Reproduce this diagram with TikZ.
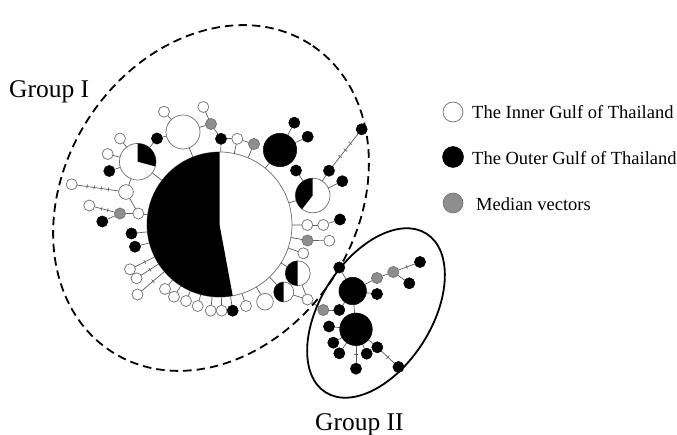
\documentclass[tikz,border=0pt]{standalone}
\usepackage{fontspec}
\setmainfont{Liberation Serif}
\usetikzlibrary{decorations.markings}
\pgfdeclarelayer{bg}
\pgfsetlayers{bg,main}
\definecolor{edgec}{HTML}{5A5A5A}
\definecolor{outc}{HTML}{6E6E6E}
\definecolor{medc}{HTML}{8E8E8E}
\begin{document}
\begin{tikzpicture}[x=1pt,y=-1pt,
 conn/.style={draw=edgec, line width=0.7pt},
 wn/.style={circle, draw=outc, fill=white, line width=0.7pt, minimum size=11pt, inner sep=0pt, outer sep=0pt},
 bn/.style={circle, draw=black, fill=black, line width=0.5pt, minimum size=11.2pt, inner sep=0pt, outer sep=0pt},
 gn/.style={circle, draw=outc, fill=medc, line width=0.6pt, minimum size=11.2pt, inner sep=0pt, outer sep=0pt},
 tkone/.style={postaction={decorate, decoration={markings, mark=at position #1 with {\draw[draw=edgec, line width=0.6pt] (0pt,-2.2pt) -- (0pt,2.2pt);}}}},
 tkmany/.style={postaction={decorate, decoration={markings, mark=between positions #1 with {\draw[draw=edgec, line width=0.6pt] (0pt,-2.2pt) -- (0pt,2.2pt);}}}},
 lbl/.style={font=\fontsize{25.5}{28}\selectfont, inner sep=0pt, anchor=base west},
 leg/.style={font=\fontsize{18.5}{22}\selectfont, inner sep=0pt, anchor=base west}
]
\useasboundingbox (0,0) rectangle (677,435);

% group outlines
\draw[line width=1.8pt, dash pattern=on 8.5pt off 5pt, rotate around={57:(211,198)}] (211,198) ellipse [x radius=183pt, y radius=146pt];
\draw[line width=1.8pt, rotate around={57.5:(376,313)}] (376,313) ellipse [x radius=94pt, y radius=55.5pt];

% central haplotype
\node[wn, minimum size=145pt] (B) at (219.5,224.5) {};

% upper-left
\node[wn, minimum size=34pt] (W1) at (183,132) {};
\node[wn, minimum size=36.6pt] (PA) at (137.7,161.7) {};
\node[wn] (a1) at (164,111.7) {};
\node[bn] (a2) at (157,138.5) {};
\node[wn] (a3) at (120,138.5) {};
\node[wn] (a4) at (107.7,154) {};
\node[bn] (a5) at (109.3,171) {};
\node[wn, minimum size=14.6pt] (a6) at (126,192) {};
\node[wn] (a7) at (71.7,184.3) {};
\node[wn] (a8) at (138.3,213.5) {};
\node[gn] (a9) at (120,213.5) {};
\node[wn] (a10) at (89.3,205.5) {};
\node[bn] (a11) at (102.3,221.5) {};
\node[bn] (a12) at (131.5,233.5) {};
\node[bn] (a13) at (135,246.7) {};

% lower
\node[wn] (b1) at (130,269.3) {};
\node[wn] (b2) at (136.5,278.3) {};
\node[wn] (b3) at (137.5,294.5) {};
\node[wn] (b4) at (165,289) {};
\node[wn] (b5) at (174,296.7) {};
\node[wn] (b6) at (186,301) {};
\node[wn] (b7) at (197.7,306) {};
\node[wn] (b8) at (210.7,310.7) {};
\node[wn] (b9) at (221.7,310.7) {};
\node[bn] (b10) at (232.7,310.7) {};
\node[wn] (b11) at (246,306) {};
\node[wn, minimum size=16.6pt] (b12) at (265,301.7) {};

% lower-right
\node[wn, minimum size=25pt] (PC1) at (297.7,273.3) {};
\node[wn, minimum size=20pt] (PC2) at (283.7,292) {};
\node[wn] (c1) at (307.5,299.5) {};
\node[gn] (c2) at (323.3,310) {};
\node[wn] (c3) at (303.3,253.3) {};
\node[gn] (c4) at (307.5,240.5) {};
\node[wn] (c5) at (329.3,240.7) {};
\node[wn] (c6) at (307.3,225) {};
\node[wn] (c7) at (323.3,225) {};
\node[bn] (c8) at (340,219.5) {};

% upper-right
\node[wn, minimum size=34.6pt] (PB) at (312.7,195.5) {};
\node[bn] (d1) at (296,170.5) {};
\node[bn] (d2) at (329,170.7) {};
\node[bn] (d3) at (342.3,181.2) {};
\node[bn] (d4) at (361.7,129.3) {};
\node[bn, minimum size=33.4pt] (BB) at (280,150) {};
\node[bn] (d5) at (294.3,122.7) {};
\node[bn] (d6) at (307.7,136.7) {};
\node[gn] (d7) at (254,144) {};
\node[wn] (d8) at (237.3,138.8) {};
\node[bn] (d9) at (221,138.8) {};
\node[gn] (d10) at (211,124) {};
\node[wn] (d11) at (203.3,107) {};

% group II
\node[bn, minimum size=27.5pt] (G1) at (352.7,291) {};
\node[bn, minimum size=32.6pt] (G2) at (356,329.3) {};
\node[bn] (e1) at (339.3,267.5) {};
\node[gn] (e2) at (377,278) {};
\node[gn] (e3) at (393.3,272) {};
\node[bn] (e4) at (420,262) {};
\node[bn] (e5) at (409.3,283.3) {};
\node[bn] (e6) at (377,294) {};
\node[bn] (e7) at (339.3,310) {};
\node[bn] (e8) at (329,326.5) {};
\node[bn] (e9) at (333.3,342.7) {};
\node[bn] (e10) at (339.3,353.3) {};
\node[bn] (e11) at (366.7,353.7) {};
\node[bn] (e12) at (377.3,347.3) {};
\node[bn] (e13) at (356,368.7) {};
\node[bn] (e14) at (398.5,367) {};

% pie sectors
\fill[black] (B.center) -- ++(90:72.5pt) arc[start angle=90, end angle=280.5, radius=72.5pt] -- cycle;
\fill[black] (PA.center) -- ++(-15:18.3pt) arc[start angle=-15, end angle=90, radius=18.3pt] -- cycle;
\fill[black] (PB.center) -- ++(90:17.3pt) arc[start angle=90, end angle=232, radius=17.3pt] -- cycle;
\fill[black] (PC1.center) -- ++(90:12.5pt) arc[start angle=90, end angle=270, radius=12.5pt] -- cycle;
\fill[black] (PC2.center) -- ++(90:10pt) arc[start angle=90, end angle=270, radius=10pt] -- cycle;

% connectors
\begin{pgfonlayer}{bg}
\draw[conn] (W1) -- (B);
\draw[conn] (W1) -- (a1);
\draw[conn] (W1) -- (a2);
\draw[conn] (a2) -- (PA);
\draw[conn] (PA) -- (a3);
\draw[conn] (PA) -- (a4);
\draw[conn] (PA) -- (a5);
\draw[conn] (PA) -- (B);
\draw[conn] (PA) -- (a6);
\draw[conn, tkmany={0.25 and 0.76 step 0.17}] (a6) -- (a7);
\draw[conn] (a6) -- (a8);
\draw[conn] (a8) -- (B);
\draw[conn] (a8) -- (a9);
\draw[conn, tkmany={0.35 and 0.66 step 0.3}] (a9) -- (a10);
\draw[conn] (a9) -- (a11);
\draw[conn] (a12) -- (B);
\draw[conn] (a13) -- (B);
\draw[conn, tkone=0.5] (b1) -- (B);
\draw[conn, tkone=0.5] (b2) -- (B);
\draw[conn, tkone=0.5] (b3) -- (B);
\draw[conn] (b4) -- (B);
\draw[conn] (b5) -- (B);
\draw[conn] (b6) -- (B);
\draw[conn] (b7) -- (B);
\draw[conn] (b8) -- (B);
\draw[conn] (b9) -- (B);
\draw[conn] (b10) -- (B);
\draw[conn] (b11) -- (B);
\draw[conn] (b12) -- (B);
\draw[conn] (PC1) -- (B);
\draw[conn] (PC2) -- (B);
\draw[conn] (PC1) -- (c1);
\draw[conn] (PC2) -- (c1);
\draw[conn] (c1) -- (c2);
\draw[conn] (c3) -- (B);
\draw[conn] (c4) -- (B);
\draw[conn] (c4) -- (c5);
\draw[conn] (c6) -- (B);
\draw[conn] (c6) -- (c7);
\draw[conn] (c7) -- (c8);
\draw[conn] (PB) -- (B);
\draw[conn] (PB) -- (d1);
\draw[conn] (PB) -- (d2);
\draw[conn] (PB) -- (d3);
\draw[conn, tkmany={0.3 and 0.71 step 0.2}] (d2) -- (d4);
\draw[conn] (BB) -- (B);
\draw[conn] (BB) -- (d5);
\draw[conn] (BB) -- (d6);
\draw[conn] (W1) -- (d10);
\draw[conn] (d10) -- (d11);
\draw[conn] (d10) -- (d9);
\draw[conn] (d9) -- (B);
\draw[conn] (d9) -- (d8);
\draw[conn] (d8) -- (B);
\draw[conn] (d8) -- (d7);
\draw[conn] (d7) -- (B);
\draw[conn] (c2) -- (e7);
\draw[conn] (e7) -- (G1);
\draw[conn] (G1) -- (G2);
\draw[conn] (G1) -- (e1);
\draw[conn] (G1) -- (e2);
\draw[conn] (e2) -- (e3);
\draw[conn, tkone=0.5] (e3) -- (e4);
\draw[conn] (e3) -- (e5);
\draw[conn] (G1) -- (e6);
\draw[conn] (G2) -- (e8);
\draw[conn] (G2) -- (e9);
\draw[conn] (G2) -- (e10);
\draw[conn] (G2) -- (e11);
\draw[conn] (G2) -- (e12);
\draw[conn, tkone=0.5] (G2) -- (e13);
\draw[conn, tkone=0.5] (e12) -- (e14);
\end{pgfonlayer}

% legend
\node[wn, minimum size=20pt] (lw) at (453,112) {};
\node[bn, minimum size=21pt] (lb) at (453,157) {};
\node[gn, minimum size=20pt] (lg) at (453,203) {};
\node[leg] (lwt) at (472,118.5) {The Inner Gulf of Thailand};
\node[leg] (lbt) at (472,165) {The Outer Gulf of Thailand};
\node[leg] (lgt) at (476,210.5) {Median vectors};

% labels
\node[lbl] (g1) at (9,98) {Group I};
\node[lbl] (g2) at (315,430) {Group II};
\end{tikzpicture}
\end{document}
